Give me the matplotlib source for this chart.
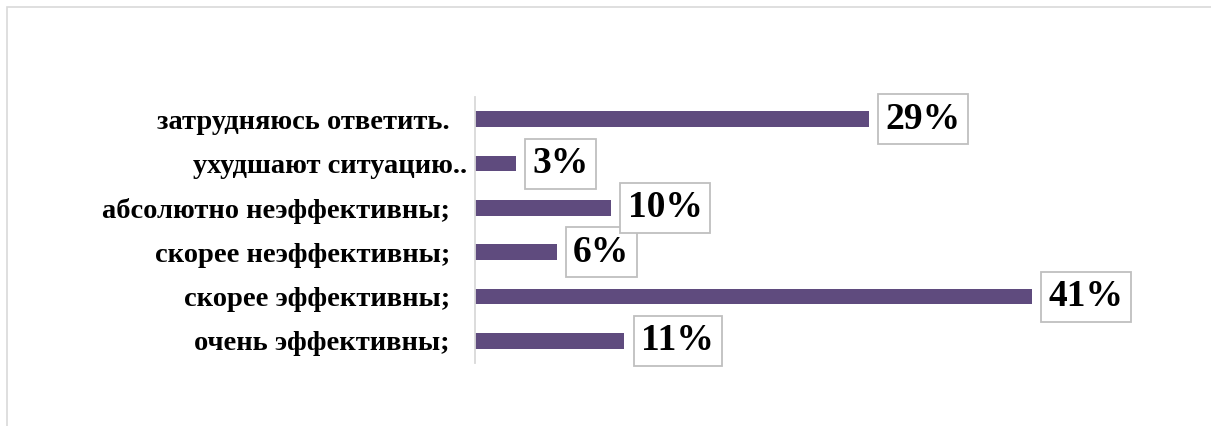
import matplotlib
matplotlib.use("Agg")
import matplotlib.pyplot as plt
from matplotlib.patches import Rectangle
from matplotlib.transforms import ScaledTranslation

categories = [
    "очень эффективны;",
    "скорее эффективны;",
    "скорее неэффективны;",
    "абсолютно неэффективны;",
    "ухудшают ситуацию..",
    "затрудняюсь ответить.",
]
values = [11, 41, 6, 10, 3, 29]
value_labels = ["11%", "41%", "6%", "10%", "3%", "29%"]

W, H, DPI = 1211, 426, 100
fig = plt.figure(figsize=(W / DPI, H / DPI), dpi=DPI)
fig.patch.set_facecolor("white")

# chart area frame (only its top and left edges fall inside the image)
fig.add_artist(Rectangle((7 / W, -0.1), 1.2, (H - 7) / H + 0.1, transform=fig.transFigure,
                         fill=False, edgecolor="#d9d9d9", linewidth=1.2))

ax = fig.add_axes([475 / W, 63 / H, (1160 - 475) / W, (363 - 97) / H])
ypos = list(range(len(categories)))
ax.barh(ypos, values, height=0.36, color="#5f4b7e")
ax.set_xlim(0, 685 / 13.59)
ax.set_ylim(-0.5, len(categories) - 0.5)

for s in ("top", "right", "bottom"):
    ax.spines[s].set_visible(False)
ax.spines["left"].set_color("#d9d9d9")
ax.spines["left"].set_linewidth(1.3)
ax.set_xticks([])
ax.set_yticks(ypos)
ax.set_yticklabels(categories, fontfamily="Liberation Serif", fontweight="bold", fontsize=20.5)
ax.tick_params(axis="y", length=0, pad=18)
# the truncated label runs closer to the axis
for lbl in ax.get_yticklabels():
    if lbl.get_text().endswith(".."):
        lbl.set_transform(lbl.get_transform() + ScaledTranslation(12.5 / 72, 0, fig.dpi_scale_trans))

for y, v, t in zip(ypos, values, value_labels):
    ax.annotate(t, (v, y), xytext=(12, 0), textcoords="offset points",
                ha="left", va="center", fontfamily="Liberation Serif", fontweight="bold",
                fontsize=27,
                bbox=dict(boxstyle="square,pad=0.2", facecolor="white",
                          edgecolor="#bfbfbf", linewidth=1.3))

fig.savefig("out.png", dpi=DPI)
